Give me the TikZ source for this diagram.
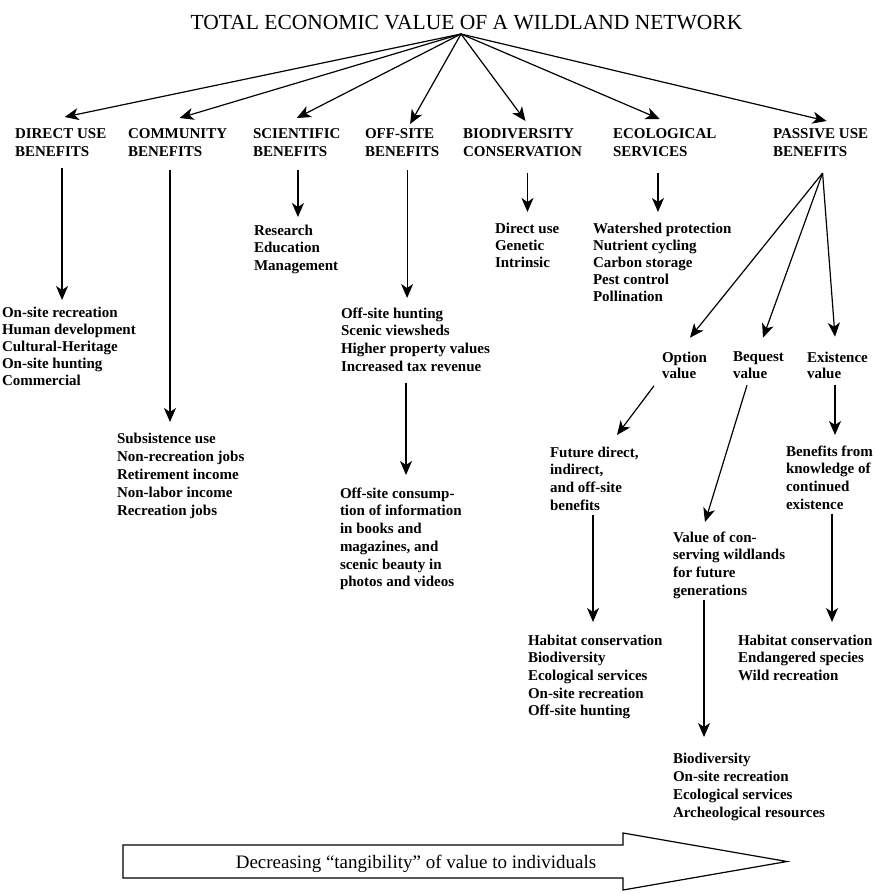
\documentclass[tikz,border=0pt]{standalone}
\usepackage{fontspec}
\setmainfont{Liberation Serif}
\usetikzlibrary{arrows.meta,calc}
\newcommand\bodyfont{\fontsize{15}{17.7}\selectfont\bfseries}
\newcommand\headfont{\fontsize{15}{18}\selectfont\bfseries}
\begin{document}
\begin{tikzpicture}[x=1pt,y=-1pt,
  every node/.style={inner sep=0pt, outer sep=0pt},
  head/.style={font=\headfont, align=left, anchor=north west},
  lst/.style={font=\bodyfont, align=left, anchor=north west},
  arr/.style={line width=1.2pt, -{Stealth[length=14pt,width=12pt,inset=4pt]}},
  blockarrow/.style={line width=1.2pt}]
\useasboundingbox (0,0) rectangle (877,894);

% title and apex
\node[font=\fontsize{21.5}{24}\selectfont, anchor=base] (title) at (466.5,29) {TOTAL ECONOMIC VALUE OF A WILDLAND NETWORK};
\coordinate (apex) at ($(title.base)+(-5.5,5)$);

% headings
\node[head] (dirH) at (15,129) {DIRECT USE\\BENEFITS};
\node[head] (comH) at (128,129) {COMMUNITY\\BENEFITS};
\node[head] (sciH) at (253,129) {SCIENTIFIC\\BENEFITS};
\node[head] (offH) at (365,129) {OFF-SITE\\BENEFITS};
\node[head] (bioH) at (463,129) {BIODIVERSITY\\CONSERVATION};
\node[head] (ecoH) at (613,129) {ECOLOGICAL\\SERVICES};
\node[head] (pasH) at (773,129) {PASSIVE USE\\BENEFITS};

% lists
\node[lst, font=\fontsize{15}{17}\selectfont\bfseries] (dirL) at (2,306.7) {On-site recreation\\Human development\\Cultural-Heritage\\On-site hunting\\Commercial};
\node[lst, font=\fontsize{15}{18}\selectfont\bfseries] (comL) at (117,432.7) {Subsistence use\\Non-recreation jobs\\Retirement income\\Non-labor income\\Recreation jobs};
\node[lst] (sciL) at (254,224.7) {Research\\Education\\Management};
\node[lst] (offL1) at (341,307.7) {Off-site hunting\\Scenic viewsheds\\Higher property values\\Increased tax revenue};
\node[lst] (offL2) at (340,487.7) {Off-site consump-\\tion of information\\in books and\\magazines, and\\scenic beauty in\\photos and videos};
\node[lst, font=\fontsize{15}{17}\selectfont\bfseries] (bioL) at (495,222.7) {Direct use\\Genetic\\Intrinsic};
\node[lst, font=\fontsize{15}{17.2}\selectfont\bfseries] (ecoL) at (593,222.7) {Watershed protection\\Nutrient cycling\\Carbon storage\\Pest control\\Pollination};

\node[lst, font=\fontsize{15}{16.5}\selectfont\bfseries] (optN) at (662,351.7) {Option\\value};
\node[lst, font=\fontsize{15}{16.5}\selectfont\bfseries] (beqN) at (733,351.7) {Bequest\\value};
\node[lst, font=\fontsize{15}{16.5}\selectfont\bfseries] (exiN) at (807,351.7) {Existence\\value};

\node[lst] (futN) at (550,446.7) {Future direct,\\indirect,\\and off-site\\benefits};
\node[lst] (valN) at (673,531.7) {Value of con-\\serving wildlands\\for future\\generations};
\node[lst] (benN) at (786,445.7) {Benefits from\\knowledge of\\continued\\existence};

\node[lst] (habL) at (528,634.7) {Habitat conservation\\Biodiversity\\Ecological services\\On-site recreation\\Off-site hunting};
\node[lst] (habR) at (738,634.7) {Habitat conservation\\Endangered species\\Wild recreation};
\node[lst, font=\fontsize{15}{18}\selectfont\bfseries] (bioL2) at (673,752.7) {Biodiversity\\On-site recreation\\Ecological services\\Archeological resources};

% arrows from apex to headings
\draw[arr] (apex) -- ($(dirH.north)+(4,-12)$);
\draw[arr] (apex) -- ($(comH.north)+(2,-11)$);
\draw[arr] (apex) -- ($(sciH.north)+(0,-11)$);
\draw[arr] (apex) -- ($(offH.north)+(8,-5)$);
\draw[arr] (apex) -- ($(bioH.north)+(3,-8)$);
\draw[arr] (apex) -- ($(ecoH.north)+(-5,-10)$);
\draw[arr] (apex) -- ($(pasH.north)+(6,-8)$);

% vertical arrows from headings
\coordinate (d1) at ($(dirH.south)+(1.4,11)$);
\draw[arr] (d1) -- ($(d1 |- dirL.north)+(0,-6.7)$);
\coordinate (c1) at ($(comH.south)+(-7.6,13)$);
\draw[arr] (c1) -- ($(c1 |- comL.north)+(0,-10.7)$);
\coordinate (s1) at ($(sciH.south)+(1.2,13)$);
\draw[arr] (s1) -- ($(s1 |- sciL.north)+(0,-7.7)$);
\coordinate (o1) at ($(offH.south)+(5,13)$);
\draw[arr] (o1) -- ($(o1 |- offL1.north)+(0,-9.7)$);
\coordinate (o2) at ($(offL1.south west)+(65,11)$);
\draw[arr] (o2) -- ($(o2 |- offL2.north)+(0,-12.7)$);
\coordinate (b1) at ($(bioH.south)+(5,16)$);
\draw[arr] (b1) -- ($(b1 |- bioL.north)+(0,-10.7)$);
\coordinate (e0) at ($(ecoH.south)+(-6.7,16)$);
\draw[arr] (e0) -- ($(e0 |- ecoL.north)+(0,-10.7)$);

% passive use fan
\coordinate (p0) at ($(pasH.south)+(2,16)$);
\draw[arr] (p0) -- ($(optN.north west)+(28,-14)$);
\draw[arr] (p0) -- ($(beqN.north west)+(30,-14)$);
\draw[arr] (p0) -- ($(exiN.north west)+(28,-15)$);

\draw[arr] ($(optN.south west)+(-8,7)$) -- ($(futN.north west)+(67,-11.7)$);
\draw[arr] ($(beqN.south west)+(14,7)$) -- ($(valN.north west)+(32,-9.7)$);
\coordinate (x1) at ($(exiN.south west)+(28,6)$);
\draw[arr] (x1) -- ($(x1 |- benN.north)+(0,-10.7)$);

\coordinate (f1) at ($(futN.south west)+(43,5)$);
\draw[arr] (f1) -- ($(f1 |- habL.north)+(0,-12.7)$);
\coordinate (v1) at ($(valN.south west)+(31,1)$);
\draw[arr] (v1) -- ($(v1 |- bioL2.north)+(0,-15.7)$);
\coordinate (n1) at ($(benN.south west)+(46,4)$);
\draw[arr] (n1) -- ($(n1 |- habR.north)+(0,-12.7)$);

% bottom block arrow
\draw[blockarrow] (123,845) -- (623,845) -- (623,833) -- (787,861.5) -- (623,890) -- (623,878) -- (123,878) -- cycle;
\node[font=\fontsize{19}{22}\selectfont, anchor=base] (tang) at (416,868) {Decreasing “tangibility” of value to individuals};
\end{tikzpicture}
\end{document}
